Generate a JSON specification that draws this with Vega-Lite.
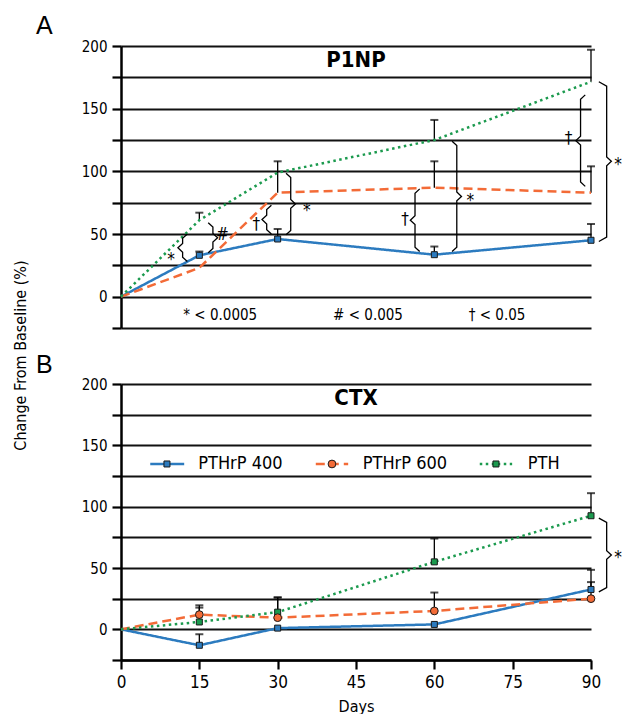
{
  "$schema": "https://vega.github.io/schema/vega-lite/v6.json",
  "padding": {"left": 12, "top": 14, "right": 0, "bottom": 0},
  "bounds": "flush",
  "spacing": 56,
  "config": {
    "view": {"stroke": null},
    "font": "DejaVu Sans Condensed, Liberation Sans, sans-serif",
    "text": {"font": "DejaVu Sans Condensed, Liberation Sans, sans-serif", "color": "#000"}
  },
  "datasets": {
    "series": [
      {"panel": "A", "group": "PTHrP 400", "day": 0, "value": 0},
      {"panel": "A", "group": "PTHrP 400", "day": 15, "value": 33, "upper": 36},
      {"panel": "A", "group": "PTHrP 400", "day": 30, "value": 46, "upper": 54},
      {"panel": "A", "group": "PTHrP 400", "day": 60, "value": 33.5, "upper": 40},
      {"panel": "A", "group": "PTHrP 400", "day": 90, "value": 45, "upper": 58},
      {"panel": "A", "group": "PTHrP 600", "day": 0, "value": 0},
      {"panel": "A", "group": "PTHrP 600", "day": 15, "value": 23},
      {"panel": "A", "group": "PTHrP 600", "day": 30, "value": 83, "upper": 108},
      {"panel": "A", "group": "PTHrP 600", "day": 60, "value": 87, "upper": 108},
      {"panel": "A", "group": "PTHrP 600", "day": 90, "value": 83, "upper": 104},
      {"panel": "A", "group": "PTH", "day": 0, "value": 0},
      {"panel": "A", "group": "PTH", "day": 15, "value": 61, "upper": 67},
      {"panel": "A", "group": "PTH", "day": 30, "value": 99},
      {"panel": "A", "group": "PTH", "day": 60, "value": 125, "upper": 141},
      {"panel": "A", "group": "PTH", "day": 90, "value": 171.5, "upper": 197},
      {"panel": "B", "group": "PTHrP 400", "day": 0, "value": 0},
      {"panel": "B", "group": "PTHrP 400", "day": 15, "value": -13, "upper": -4},
      {"panel": "B", "group": "PTHrP 400", "day": 30, "value": 1},
      {"panel": "B", "group": "PTHrP 400", "day": 60, "value": 4},
      {"panel": "B", "group": "PTHrP 400", "day": 90, "value": 32.5, "upper": 38.5},
      {"panel": "B", "group": "PTHrP 600", "day": 0, "value": 0},
      {"panel": "B", "group": "PTHrP 600", "day": 15, "value": 12, "upper": 19.6},
      {"panel": "B", "group": "PTHrP 600", "day": 30, "value": 9.5, "upper": 26},
      {"panel": "B", "group": "PTHrP 600", "day": 60, "value": 15, "upper": 30},
      {"panel": "B", "group": "PTHrP 600", "day": 90, "value": 25, "upper": 48.5},
      {"panel": "B", "group": "PTH", "day": 0, "value": 0},
      {"panel": "B", "group": "PTH", "day": 15, "value": 6, "upper": 17.7},
      {"panel": "B", "group": "PTH", "day": 30, "value": 14, "upper": 26},
      {"panel": "B", "group": "PTH", "day": 60, "value": 55, "upper": 74},
      {"panel": "B", "group": "PTH", "day": 90, "value": 92.6, "upper": 111}
    ],
    "brackets": [
      {"panel": "A", "b": 1, "o": 1, "day": 12.7, "value": 50},
      {"panel": "A", "b": 1, "o": 2, "day": 11.8, "value": 46.5},
      {"panel": "A", "b": 1, "o": 3, "day": 11.8, "value": 42.5},
      {"panel": "A", "b": 1, "o": 4, "day": 10.9, "value": 39},
      {"panel": "A", "b": 1, "o": 5, "day": 11.8, "value": 35.5},
      {"panel": "A", "b": 1, "o": 6, "day": 11.8, "value": 31.5},
      {"panel": "A", "b": 1, "o": 7, "day": 12.7, "value": 28},
      {"panel": "A", "b": 2, "o": 1, "day": 16.7, "value": 59},
      {"panel": "A", "b": 2, "o": 2, "day": 17.6, "value": 55.5},
      {"panel": "A", "b": 2, "o": 3, "day": 17.6, "value": 50.5},
      {"panel": "A", "b": 2, "o": 4, "day": 18.5, "value": 47},
      {"panel": "A", "b": 2, "o": 5, "day": 17.6, "value": 43.5},
      {"panel": "A", "b": 2, "o": 6, "day": 17.6, "value": 38.5},
      {"panel": "A", "b": 2, "o": 7, "day": 16.7, "value": 35},
      {"panel": "A", "b": 3, "o": 1, "day": 28.8, "value": 73},
      {"panel": "A", "b": 3, "o": 2, "day": 27.9, "value": 69.5},
      {"panel": "A", "b": 3, "o": 3, "day": 27.9, "value": 65},
      {"panel": "A", "b": 3, "o": 4, "day": 27.0, "value": 61.5},
      {"panel": "A", "b": 3, "o": 5, "day": 27.9, "value": 58},
      {"panel": "A", "b": 3, "o": 6, "day": 27.9, "value": 53.5},
      {"panel": "A", "b": 3, "o": 7, "day": 28.8, "value": 50},
      {"panel": "A", "b": 4, "o": 1, "day": 31.6, "value": 98.5},
      {"panel": "A", "b": 4, "o": 2, "day": 32.5, "value": 95},
      {"panel": "A", "b": 4, "o": 3, "day": 32.5, "value": 77.5},
      {"panel": "A", "b": 4, "o": 4, "day": 33.4, "value": 74},
      {"panel": "A", "b": 4, "o": 5, "day": 32.5, "value": 70.5},
      {"panel": "A", "b": 4, "o": 6, "day": 32.5, "value": 52.9},
      {"panel": "A", "b": 4, "o": 7, "day": 31.6, "value": 49.4},
      {"panel": "A", "b": 5, "o": 1, "day": 57.2, "value": 86},
      {"panel": "A", "b": 5, "o": 2, "day": 56.3, "value": 82.5},
      {"panel": "A", "b": 5, "o": 3, "day": 56.3, "value": 64.5},
      {"panel": "A", "b": 5, "o": 4, "day": 55.4, "value": 61},
      {"panel": "A", "b": 5, "o": 5, "day": 56.3, "value": 57.5},
      {"panel": "A", "b": 5, "o": 6, "day": 56.3, "value": 39.5},
      {"panel": "A", "b": 5, "o": 7, "day": 57.2, "value": 36},
      {"panel": "A", "b": 6, "o": 1, "day": 63.4, "value": 124},
      {"panel": "A", "b": 6, "o": 2, "day": 64.3, "value": 120.5},
      {"panel": "A", "b": 6, "o": 3, "day": 64.3, "value": 83.5},
      {"panel": "A", "b": 6, "o": 4, "day": 65.2, "value": 80},
      {"panel": "A", "b": 6, "o": 5, "day": 64.3, "value": 76.5},
      {"panel": "A", "b": 6, "o": 6, "day": 64.3, "value": 39.5},
      {"panel": "A", "b": 6, "o": 7, "day": 63.4, "value": 36},
      {"panel": "A", "b": 7, "o": 1, "day": 88.9, "value": 161},
      {"panel": "A", "b": 7, "o": 2, "day": 88.0, "value": 157.5},
      {"panel": "A", "b": 7, "o": 3, "day": 88.0, "value": 128},
      {"panel": "A", "b": 7, "o": 4, "day": 87.1, "value": 124.5},
      {"panel": "A", "b": 7, "o": 5, "day": 88.0, "value": 121},
      {"panel": "A", "b": 7, "o": 6, "day": 88.0, "value": 91.5},
      {"panel": "A", "b": 7, "o": 7, "day": 88.9, "value": 88},
      {"panel": "A", "b": 8, "o": 1, "day": 91.5, "value": 171.5},
      {"panel": "A", "b": 8, "o": 2, "day": 93.0, "value": 168},
      {"panel": "A", "b": 8, "o": 3, "day": 93.0, "value": 111.5},
      {"panel": "A", "b": 8, "o": 4, "day": 93.9, "value": 108},
      {"panel": "A", "b": 8, "o": 5, "day": 93.0, "value": 104.5},
      {"panel": "A", "b": 8, "o": 6, "day": 93.0, "value": 47.5},
      {"panel": "A", "b": 8, "o": 7, "day": 91.5, "value": 44},
      {"panel": "B", "b": 9, "o": 1, "day": 91.5, "value": 90.7},
      {"panel": "B", "b": 9, "o": 2, "day": 93.0, "value": 87.2},
      {"panel": "B", "b": 9, "o": 3, "day": 93.0, "value": 64.1},
      {"panel": "B", "b": 9, "o": 4, "day": 93.9, "value": 60.6},
      {"panel": "B", "b": 9, "o": 5, "day": 93.0, "value": 57.1},
      {"panel": "B", "b": 9, "o": 6, "day": 93.0, "value": 34},
      {"panel": "B", "b": 9, "o": 7, "day": 91.5, "value": 30.5}
    ],
    "marks": [
      {"panel": "A", "label": "*", "day": 9.6, "value": 29},
      {"panel": "A", "label": "#", "day": 19.4, "value": 49},
      {"panel": "A", "label": "†", "day": 25.9, "value": 57},
      {"panel": "A", "label": "*", "day": 35.6, "value": 68},
      {"panel": "A", "label": "†", "day": 54.4, "value": 61},
      {"panel": "A", "label": "*", "day": 66.9, "value": 76},
      {"panel": "A", "label": "†", "day": 85.7, "value": 126},
      {"panel": "A", "label": "*", "day": 95.2, "value": 105},
      {"panel": "B", "label": "*", "day": 95.2, "value": 58}
    ],
    "notes": [
      {"label": "* < 0.0005", "day": 19, "value": -15},
      {"label": "# < 0.005", "day": 47.3, "value": -15},
      {"label": "† < 0.05", "day": 72, "value": -15}
    ],
    "legend": [
      {"group": "PTHrP 400", "x1": 5.6, "x2": 12.1, "xm": 8.8, "xt": 14.8, "value": 134.8},
      {"group": "PTHrP 600", "x1": 37.3, "x2": 43.5, "xm": 40.4, "xt": 46.3, "value": 134.8},
      {"group": "PTH", "x1": 68.7, "x2": 74.9, "xm": 71.8, "xt": 77.9, "value": 134.8}
    ]
  },
  "vconcat": [
    {
      "width": 470,
      "height": 282,
      "title": {"text": "A", "anchor": "start", "frame": "group", "dx": -85, "offset": -20, "fontSize": 25, "fontWeight": "normal", "font": "Liberation Sans", "baseline": "alphabetic", "color": "#000"},
      "encoding": {
        "x": {"field": "day", "type": "quantitative", "scale": {"domain": [0, 90], "nice": false}, "axis": null},
        "y": {
          "field": "value", "type": "quantitative", "scale": {"domain": [-25, 200], "nice": false},
          "title": "Change From Baseline (%)",
          "axis": {
            "values": [-25, 0, 25, 50, 75, 100, 125, 150, 175, 200],
            "labelExpr": "datum.value >= 0 && datum.value % 50 == 0 ? datum.label : ''",
            "grid": true, "gridColor": "#111", "gridWidth": 2.2,
            "domainColor": "#000", "domainWidth": 2.5,
            "tickColor": "#000", "tickWidth": 2.2, "tickSize": 9,
            "labelFontSize": 15, "labelColor": "#000", "labelPadding": 5,
            "titleFontSize": 16, "titleFontWeight": "normal", "titleColor": "#000",
            "titleX": -101, "titleY": 309, "titleBaseline": "middle", "titleAlign": "center", "titleAngle": -90
          }
        }
      },
      "layer": [
        {
          "data": {"name": "series"},
          "transform": [{"filter": "datum.panel == 'A' && isValid(datum.upper)"}],
          "mark": {"type": "rule", "color": "#000", "strokeWidth": 1.3},
          "encoding": {"y2": {"field": "upper"}}
        },
        {
          "data": {"name": "series"},
          "transform": [{"filter": "datum.panel == 'A' && isValid(datum.upper)"}],
          "mark": {"type": "tick", "orient": "horizontal", "color": "#000", "size": 8, "thickness": 2},
          "encoding": {"y": {"field": "upper", "type": "quantitative", "title": "Change From Baseline (%)"}}
        },
        {
          "data": {"name": "series"},
          "transform": [{"filter": "datum.panel == 'A'"}],
          "mark": {"type": "line", "strokeWidth": 2.5},
          "encoding": {
            "color": {"field": "group", "type": "nominal", "scale": {"domain": ["PTHrP 400", "PTHrP 600", "PTH"], "range": ["#2c7bbf", "#f36b37", "#1b9a4e"]}, "legend": null},
            "strokeDash": {"field": "group", "type": "nominal", "scale": {"domain": ["PTHrP 400", "PTHrP 600", "PTH"], "range": [[1, 0], [9, 5], [2.5, 3.5]]}, "legend": null},
            "order": {"field": "day"}
          }
        },
        {
          "data": {"name": "series"},
          "transform": [{"filter": "datum.panel == 'A' && datum.day > 0 && datum.group == 'PTHrP 400'"}],
          "mark": {"type": "point", "shape": "square", "filled": true, "size": 36, "fill": "#2c7bbf", "stroke": "#1a1a1a", "strokeWidth": 1, "opacity": 1}
        },
        {
          "data": {"name": "brackets"},
          "transform": [{"filter": "datum.panel == 'A'"}],
          "mark": {"type": "line", "color": "#000", "strokeWidth": 1.3},
          "encoding": {"detail": {"field": "b"}, "order": {"field": "o"}}
        },
        {
          "data": {"name": "marks"},
          "transform": [{"filter": "datum.panel == 'A'"}],
          "mark": {"type": "text", "fontSize": 17, "baseline": "middle", "align": "center"},
          "encoding": {"text": {"field": "label"}}
        },
        {
          "data": {"name": "notes"},
          "mark": {"type": "text", "fontSize": 15, "baseline": "middle", "align": "center"},
          "encoding": {"text": {"field": "label"}}
        },
        {
          "data": {"values": [{"label": "P1NP", "day": 45, "value": 188.7}]},
          "mark": {"type": "text", "fontSize": 22, "fontWeight": "bold", "baseline": "middle", "align": "center"},
          "encoding": {"text": {"field": "label"}}
        }
      ]
    },
    {
      "width": 470,
      "height": 276,
      "title": {"text": "B", "anchor": "start", "frame": "group", "dx": -85, "offset": -21, "fontSize": 25, "fontWeight": "normal", "font": "Liberation Sans", "baseline": "alphabetic", "color": "#000"},
      "encoding": {
        "x": {
          "field": "day", "type": "quantitative", "scale": {"domain": [0, 90], "nice": false},
          "title": "Days",
          "axis": {
            "values": [0, 15, 30, 45, 60, 75, 90], "grid": false, "labelFlush": false,
            "domainColor": "#000", "domainWidth": 2.5,
            "tickColor": "#000", "tickWidth": 2.2, "tickSize": 9,
            "labelFontSize": 17, "labelColor": "#000", "labelPadding": 5,
            "titleFontSize": 16, "titleFontWeight": "normal", "titleColor": "#000", "titlePadding": 8
          }
        },
        "y": {
          "field": "value", "type": "quantitative", "scale": {"domain": [-25, 200], "nice": false},
          "title": null,
          "axis": {
            "values": [-25, 0, 25, 50, 75, 100, 125, 150, 175, 200],
            "labelExpr": "datum.value >= 0 && datum.value % 50 == 0 ? datum.label : ''",
            "grid": true, "gridColor": "#111", "gridWidth": 2.2,
            "domainColor": "#000", "domainWidth": 2.5,
            "tickColor": "#000", "tickWidth": 2.2, "tickSize": 9,
            "labelFontSize": 15, "labelColor": "#000", "labelPadding": 5
          }
        }
      },
      "layer": [
        {
          "data": {"name": "series"},
          "transform": [{"filter": "datum.panel == 'B' && isValid(datum.upper)"}],
          "mark": {"type": "rule", "color": "#000", "strokeWidth": 1.3},
          "encoding": {"y2": {"field": "upper"}}
        },
        {
          "data": {"name": "series"},
          "transform": [{"filter": "datum.panel == 'B' && isValid(datum.upper)"}],
          "mark": {"type": "tick", "orient": "horizontal", "color": "#000", "size": 8, "thickness": 2},
          "encoding": {"y": {"field": "upper", "type": "quantitative", "title": null}}
        },
        {
          "data": {"name": "series"},
          "transform": [{"filter": "datum.panel == 'B'"}],
          "mark": {"type": "line", "strokeWidth": 2.5},
          "encoding": {
            "color": {"field": "group", "type": "nominal", "scale": {"domain": ["PTHrP 400", "PTHrP 600", "PTH"], "range": ["#2c7bbf", "#f36b37", "#1b9a4e"]}, "legend": null},
            "strokeDash": {"field": "group", "type": "nominal", "scale": {"domain": ["PTHrP 400", "PTHrP 600", "PTH"], "range": [[1, 0], [9, 5], [2.5, 3.5]]}, "legend": null},
            "order": {"field": "day"}
          }
        },
        {
          "data": {"name": "series"},
          "transform": [{"filter": "datum.panel == 'B' && datum.day > 0 && datum.group != 'PTHrP 600'"}],
          "mark": {"type": "point", "shape": "square", "filled": true, "size": 36, "stroke": "#1a1a1a", "strokeWidth": 1, "opacity": 1},
          "encoding": {"fill": {"field": "group", "type": "nominal", "scale": {"domain": ["PTHrP 400", "PTHrP 600", "PTH"], "range": ["#2c7bbf", "#f36b37", "#1b9a4e"]}, "legend": null}}
        },
        {
          "data": {"name": "series"},
          "transform": [{"filter": "datum.panel == 'B' && datum.day > 0 && datum.group == 'PTHrP 600'"}],
          "mark": {"type": "point", "shape": "circle", "filled": true, "size": 60, "fill": "#f36b37", "stroke": "#1a1a1a", "strokeWidth": 1, "opacity": 1}
        },
        {
          "data": {"name": "brackets"},
          "transform": [{"filter": "datum.panel == 'B'"}],
          "mark": {"type": "line", "color": "#000", "strokeWidth": 1.3},
          "encoding": {"detail": {"field": "b"}, "order": {"field": "o"}}
        },
        {
          "data": {"name": "marks"},
          "transform": [{"filter": "datum.panel == 'B'"}],
          "mark": {"type": "text", "fontSize": 17, "baseline": "middle", "align": "center"},
          "encoding": {"text": {"field": "label"}}
        },
        {
          "data": {"name": "legend"},
          "mark": {"type": "rule", "strokeWidth": 2.5},
          "encoding": {
            "x": {"field": "x1", "type": "quantitative", "title": "Days"},
            "x2": {"field": "x2"},
            "color": {"field": "group", "type": "nominal", "scale": {"domain": ["PTHrP 400", "PTHrP 600", "PTH"], "range": ["#2c7bbf", "#f36b37", "#1b9a4e"]}, "legend": null},
            "strokeDash": {"field": "group", "type": "nominal", "scale": {"domain": ["PTHrP 400", "PTHrP 600", "PTH"], "range": [[1, 0], [9, 5], [2.5, 3.5]]}, "legend": null}
          }
        },
        {
          "data": {"name": "legend"},
          "transform": [{"filter": "datum.group != 'PTHrP 600'"}],
          "mark": {"type": "point", "shape": "square", "filled": true, "size": 36, "stroke": "#1a1a1a", "strokeWidth": 1, "opacity": 1},
          "encoding": {
            "x": {"field": "xm", "type": "quantitative", "title": "Days"},
            "fill": {"field": "group", "type": "nominal", "scale": {"domain": ["PTHrP 400", "PTHrP 600", "PTH"], "range": ["#2c7bbf", "#f36b37", "#1b9a4e"]}, "legend": null}
          }
        },
        {
          "data": {"name": "legend"},
          "transform": [{"filter": "datum.group == 'PTHrP 600'"}],
          "mark": {"type": "point", "shape": "circle", "filled": true, "size": 60, "fill": "#f36b37", "stroke": "#1a1a1a", "strokeWidth": 1, "opacity": 1},
          "encoding": {"x": {"field": "xm", "type": "quantitative", "title": "Days"}}
        },
        {
          "data": {"name": "legend"},
          "mark": {"type": "text", "fontSize": 18, "baseline": "middle", "align": "left"},
          "encoding": {
            "x": {"field": "xt", "type": "quantitative", "title": "Days"},
            "text": {"field": "group"}
          }
        },
        {
          "data": {"values": [{"label": "CTX", "day": 45, "value": 188.7}]},
          "mark": {"type": "text", "fontSize": 22, "fontWeight": "bold", "baseline": "middle", "align": "center"},
          "encoding": {"text": {"field": "label"}}
        }
      ]
    }
  ]
}
